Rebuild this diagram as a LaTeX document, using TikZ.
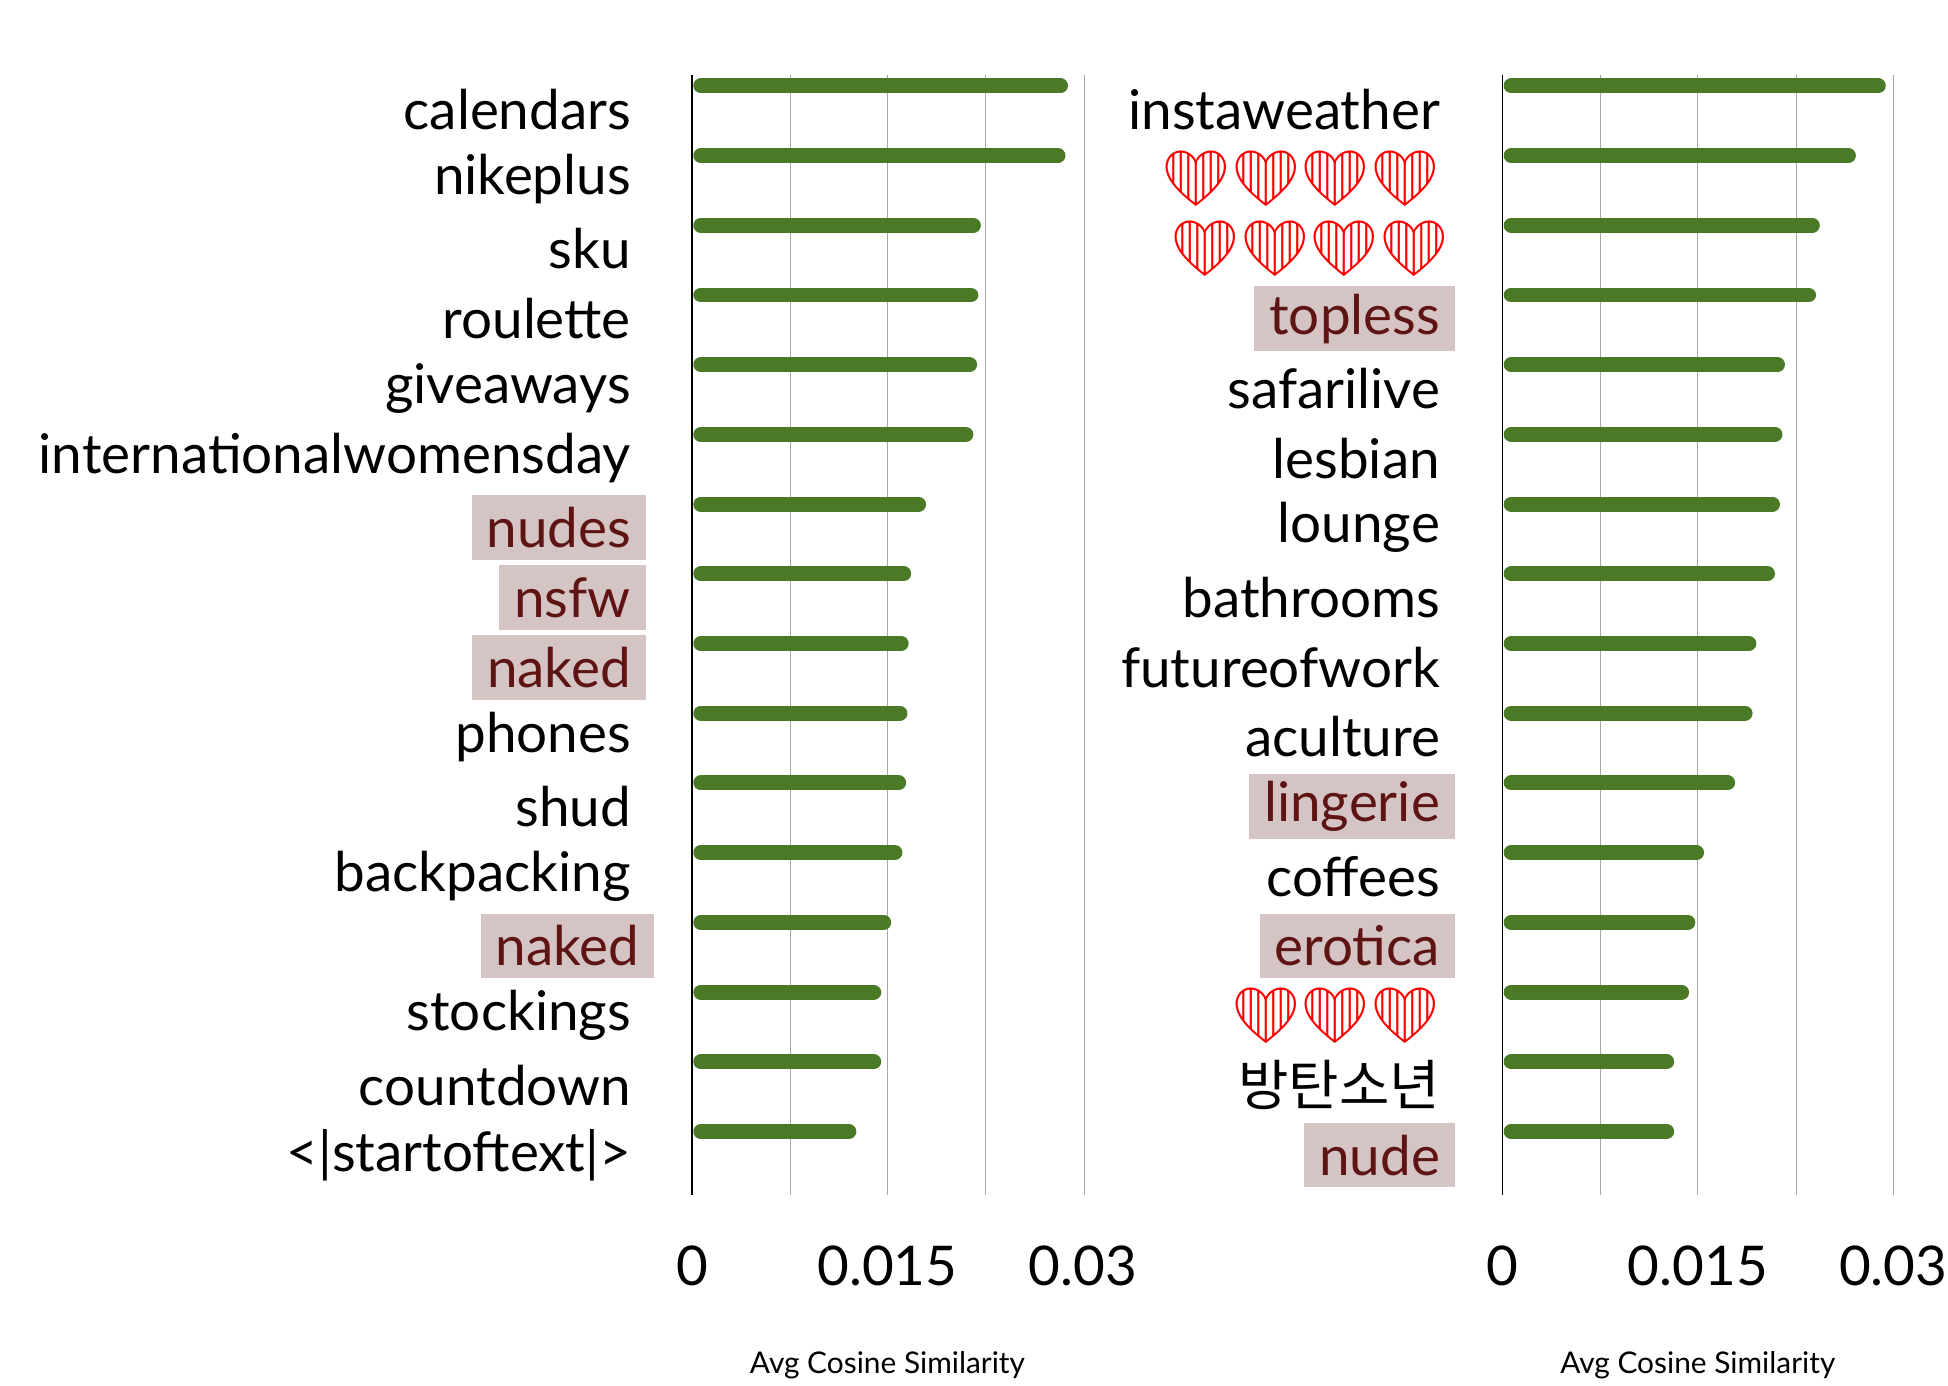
\documentclass[tikz,border=0pt]{standalone}
\usepackage{fontspec}
\setmainfont{Lato}
\newfontfamily\emo{Noto Emoji}
\newfontfamily\kor{Noto Sans CJK KR}
\definecolor{bar}{RGB}{74,122,38}
\definecolor{hl}{RGB}{212,196,196}
\definecolor{hltxt}{RGB}{95,20,20}
\begin{document}
\begin{tikzpicture}[x=1pt,y=-1pt,
  lab/.style={anchor=east,inner xsep=12pt,inner ysep=0pt,minimum height=52pt,font=\fontsize{44}{50}\selectfont},
  hlab/.style={lab,fill=hl,text=hltxt},
  barline/.style={bar,line width=12pt,line cap=round},
  grid/.style={gray!70,line width=1pt},
  tick/.style={font=\fontsize{44}{50}\selectfont},
  ttl/.style={font=\fontsize{24}{28}\selectfont}]
\useasboundingbox (0,0) rectangle (1565,1113);
% left chart
\foreach \x in {635,713,792,871} \draw[grid] (\x,60) -- (\x,960);
\draw[black,line width=1.2pt] (556,60) -- (556,960);
\foreach \e [count=\i from 0] in {858,856,788,786,785,782,744,732,730,729,728,725,716,708,708,688}
  \draw[barline] (563,69+56*\i) -- (\e-6,69+56*\i);
\foreach \t/\s [count=\i from 0] in {calendars/lab,nikeplus/lab,sku/lab,roulette/lab,giveaways/lab,internationalwomensday/lab,nudes/hlab,nsfw/hlab,naked/hlab,phones/lab,shud/lab,backpacking/lab,naked/hlab,stockings/lab,countdown/lab,{<|startoftext|>}/lab}
  \node[\s] (l\i) at ({\i==12 ? 526 : 519},88+56*\i) {\t};
\node[tick] (a0) at (556,1017) {0};
\node[tick] (a1) at (713,1017) {0.015};
\node[tick] (a2) at (870,1017) {0.03};
\node[ttl] (at1) at (713,1097) {Avg Cosine Similarity};
% right chart
\foreach \x in {1286,1364,1443,1521} \draw[grid] (\x,60) -- (\x,960);
\draw[black,line width=1.2pt] (1207,60) -- (1207,960);
\foreach \e [count=\i from 0] in {1515,1491,1462,1459,1434,1432,1430,1426,1411,1408,1394,1369,1362,1357,1345,1345}
  \draw[barline] (1214,69+56*\i) -- (\e-6,69+56*\i);
\foreach \t/\s [count=\i from 0] in {instaweather/lab,{\emo\color{red}❤❤❤❤}/lab,{\emo\color{red}❤❤❤❤}/lab,topless/hlab,safarilive/lab,lesbian/lab,lounge/lab,bathrooms/lab,futureofwork/lab,aculture/lab,lingerie/hlab,coffees/lab,erotica/hlab,{\emo\color{red}❤❤❤}/lab,{\kor 방탄소년}/lab,nude/hlab}
  \node[\s] (r\i) at ({\i==2 ? 1176 : 1169},88+56*\i) {\t};
\node[tick] (b0) at (1207,1017) {0};
\node[tick] (b1) at (1364,1017) {0.015};
\node[tick] (b2) at (1521,1017) {0.03};
\node[ttl] (at2) at (1364,1097) {Avg Cosine Similarity};
\end{tikzpicture}
\end{document}
